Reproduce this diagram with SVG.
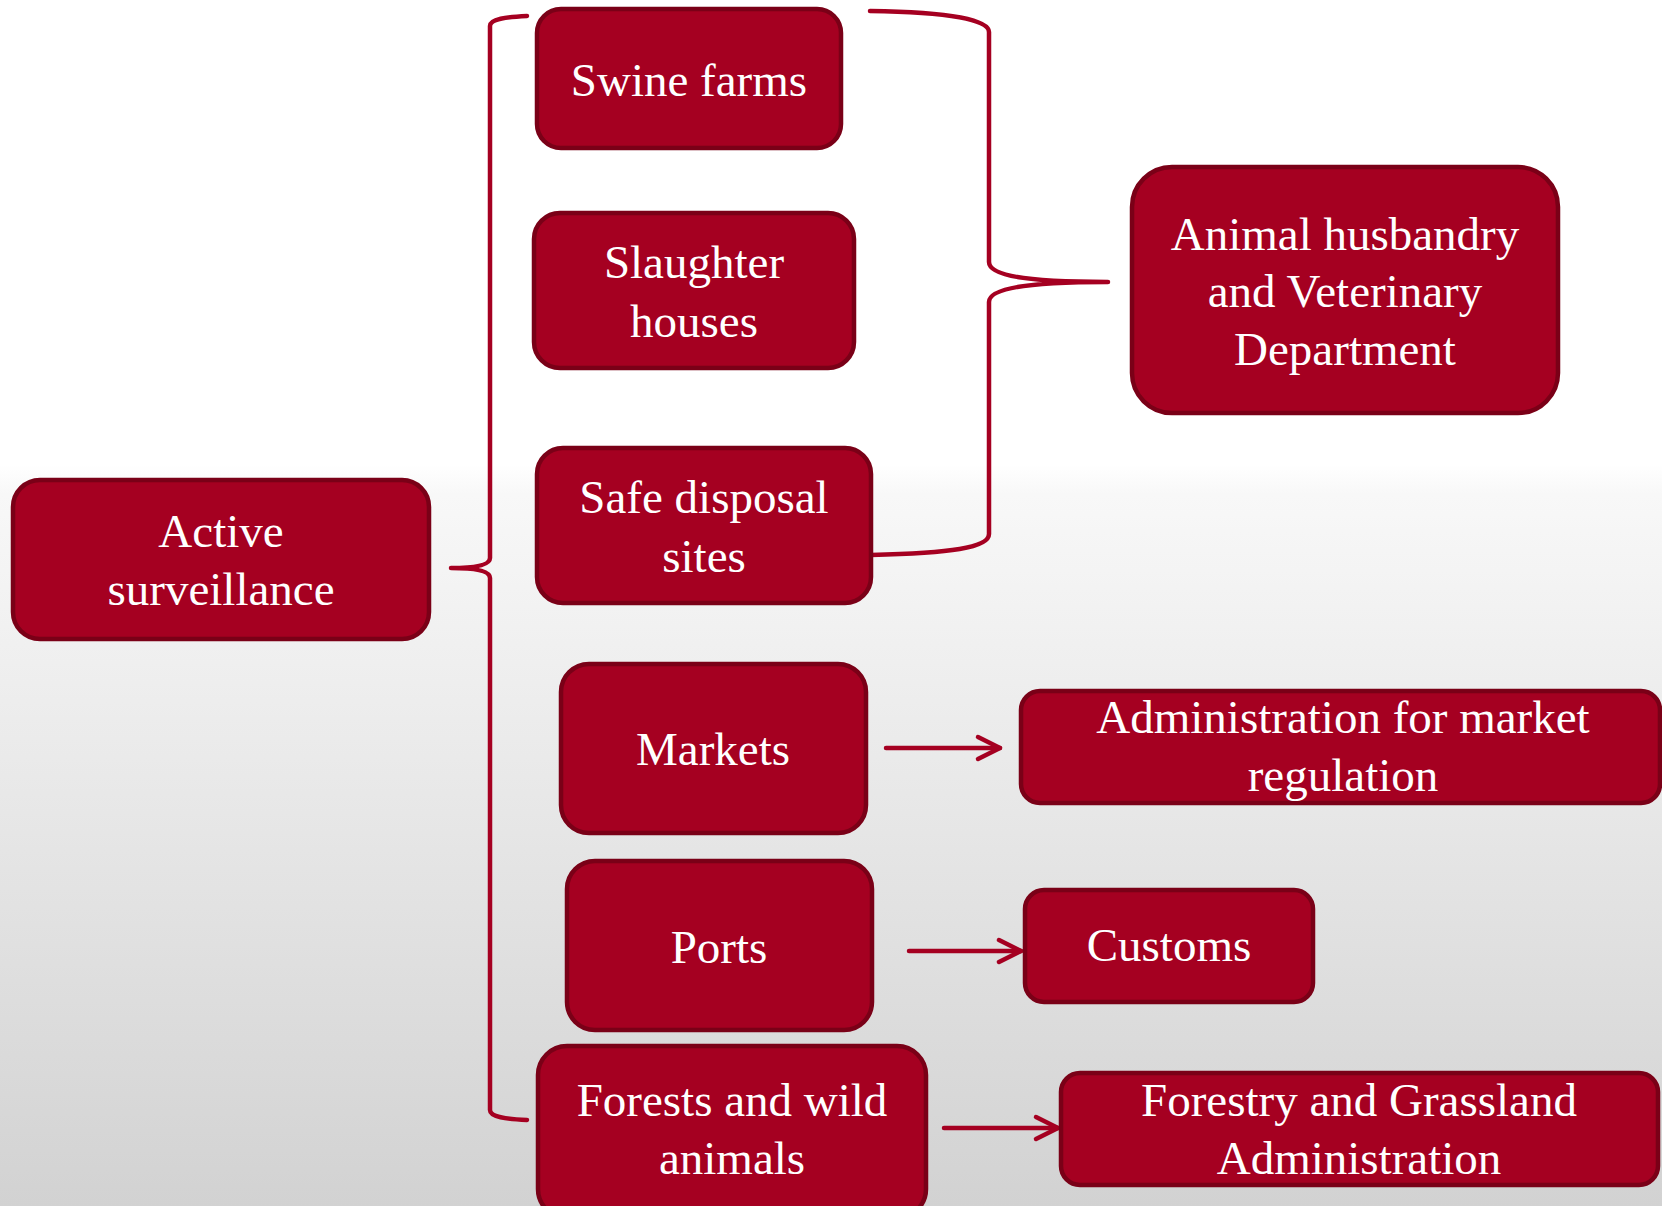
<svg xmlns="http://www.w3.org/2000/svg" width="1662" height="1206" viewBox="0 0 1662 1206">
<defs>
<linearGradient id="bg" x1="0" y1="0" x2="0" y2="1">
<stop offset="0" stop-color="#ffffff"/>
<stop offset="0.385" stop-color="#ffffff"/>
<stop offset="0.41" stop-color="#f8f8f8"/>
<stop offset="1" stop-color="#d2d2d2"/>
</linearGradient>
<marker id="arr" markerUnits="userSpaceOnUse" markerWidth="34" markerHeight="34" viewBox="-28 -17 34 34" refX="0" refY="0" orient="auto">
<path d="M-22,-11 L0,0 L-22,11" fill="none" stroke="#A50021" stroke-width="4.5" stroke-linecap="round" stroke-linejoin="round"/>
</marker>
<style>
.box{fill:#A50021;stroke:#7A0017;stroke-width:4.5}
.t{font-family:"Liberation Serif","Times New Roman",serif;font-size:47px;fill:#ffffff;text-anchor:middle}
.c{fill:none;stroke:#A50021;stroke-width:4.5;stroke-linecap:round;stroke-linejoin:round}
</style>
</defs>
<rect x="0" y="0" width="1662" height="1206" fill="url(#bg)"/>

<g id="connectors">
<path class="c" d="M527,16 C506,17 490,19 490,26 L490,558 C490,566 472,568 451,568 C472,568 490,570 490,578 L490,1110 C490,1117 506,1119 527,1120"/>
<path class="c" d="M870,11 C950,12 989,20 989,32 L989,262 C989,276 1030,282 1108,282 C1030,282 989,288 989,302 L989,534 C989,548 950,553 871,555"/>
<line class="c" x1="886" y1="748" x2="1000" y2="748" marker-end="url(#arr)"/>
<line class="c" x1="909" y1="951" x2="1021" y2="951" marker-end="url(#arr)"/>
<line class="c" x1="944" y1="1128" x2="1058" y2="1128" marker-end="url(#arr)"/>
</g>

<g id="active">
<rect class="box" x="13" y="480" width="416" height="159" rx="27"/>
<text class="t" x="221" y="547">Active</text>
<text class="t" x="221" y="605">surveillance</text>
</g>

<g id="swine">
<rect class="box" x="537" y="9" width="304" height="139" rx="24"/>
<text class="t" x="689" y="96">Swine farms</text>
</g>

<g id="slaughter">
<rect class="box" x="534" y="213" width="320" height="155" rx="26"/>
<text class="t" x="694" y="278">Slaughter</text>
<text class="t" x="694" y="337">houses</text>
</g>

<g id="safe">
<rect class="box" x="537" y="448" width="334" height="155" rx="26"/>
<text class="t" x="704" y="513">Safe disposal</text>
<text class="t" x="704" y="572">sites</text>
</g>

<g id="markets">
<rect class="box" x="561" y="664" width="305" height="169" rx="28"/>
<text class="t" x="713" y="765">Markets</text>
</g>

<g id="ports">
<rect class="box" x="567" y="861" width="305" height="169" rx="28"/>
<text class="t" x="719" y="963">Ports</text>
</g>

<g id="forests">
<rect class="box" x="538" y="1046" width="388" height="172" rx="29"/>
<text class="t" x="732" y="1116">Forests and wild</text>
<text class="t" x="732" y="1174">animals</text>
</g>

<g id="animal">
<rect class="box" x="1132" y="167" width="426" height="246" rx="40"/>
<text class="t" x="1345" y="250">Animal husbandry</text>
<text class="t" x="1345" y="307">and Veterinary</text>
<text class="t" x="1345" y="365">Department</text>
</g>

<g id="admin">
<rect class="box" x="1021" y="691" width="639" height="112" rx="19"/>
<text class="t" x="1343" y="733">Administration for market</text>
<text class="t" x="1343" y="791">regulation</text>
</g>

<g id="customs">
<rect class="box" x="1025" y="890" width="288" height="112" rx="19"/>
<text class="t" x="1169" y="961">Customs</text>
</g>

<g id="forestry">
<rect class="box" x="1061" y="1073" width="597" height="112" rx="19"/>
<text class="t" x="1359" y="1116">Forestry and Grassland</text>
<text class="t" x="1359" y="1174">Administration</text>
</g>
</svg>
